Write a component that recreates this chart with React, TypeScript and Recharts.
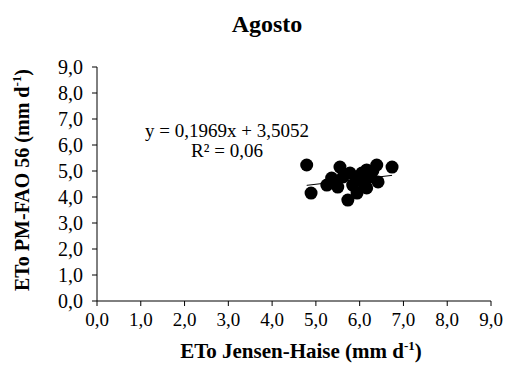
import { ScatterChart, Scatter, XAxis, YAxis, ReferenceLine } from "recharts";

const jensenHaise = [4.79, 4.89, 5.55, 5.36, 5.25, 5.5, 5.73, 5.78, 5.94, 6.16, 6.39, 6.74, 6.42, 6.16, 5.96, 5.62, 5.84, 6.23, 6.05, 6.3, 5.45, 6.1];
const pmFao56 = [5.23, 4.15, 5.15, 4.73, 4.46, 4.38, 3.88, 4.92, 4.15, 5.04, 5.23, 5.15, 4.58, 4.35, 4.65, 4.77, 4.46, 4.77, 4.92, 5.0, 4.6, 4.5];
const ticks = [0, 1, 2, 3, 4, 5, 6, 7, 8, 9];
const slope = 0.1969;
const intercept = 3.5052;

const points = jensenHaise.map((x, i) => ({ x, y: pmFao56[i] }));
const xMin = Math.min(...jensenHaise);
const xMax = Math.max(...jensenHaise);

const fmt = (v: number) => v.toFixed(1).replace(".", ",");
const serif = "Liberation Serif";

export default function App() {
  return (
    <div style={{ position: "absolute", left: 0, top: 0, width: 508, height: 370, background: "#fff" }}>
      <ScatterChart width={508} height={370} margin={{ top: 67, right: 17, left: 47, bottom: 39 }}>
        <XAxis
          type="number"
          dataKey="x"
          domain={[0, 9]}
          ticks={ticks}
          interval={0}
          tickFormatter={fmt}
          height={30}
          stroke="#000"
          tickSize={5}
          tickMargin={7}
          tick={{ fill: "#000", fontSize: 19, fontFamily: serif }}
        />
        <YAxis
          type="number"
          dataKey="y"
          domain={[0, 9]}
          ticks={ticks}
          interval={0}
          tickFormatter={fmt}
          width={50}
          stroke="#000"
          tickSize={5}
          tickMargin={9}
          tick={{ fill: "#000", fontSize: 20, fontFamily: serif }}
        />
        <ReferenceLine
          segment={[
            { x: xMin, y: slope * xMin + intercept },
            { x: xMax, y: slope * xMax + intercept },
          ]}
          stroke="#000"
          strokeWidth={1}
        />
        <Scatter data={points} fill="#000" isAnimationActive={false} shape={(p: any) => <circle cx={p.cx} cy={p.cy} r={6.5} fill="#000" />} />
      </ScatterChart>

      {/* titles and regression text */}
      <svg width={508} height={370} style={{ position: "absolute", left: 0, top: 0, pointerEvents: "none" }} fontFamily={serif} fill="#000">
        <text x={267} y={32} textAnchor="middle" fontSize={24} fontWeight="bold">Agosto</text>
        <text x={227} y={137} textAnchor="middle" fontSize={19}>y = 0,1969x + 3,5052</text>
        <text x={227} y={157} textAnchor="middle" fontSize={19}>R² = 0,06</text>
        <text x={301} y={358} textAnchor="middle" fontSize={21} fontWeight="bold">
          ETo Jensen-Haise (mm d<tspan fontSize={13} dy={-8}>-1</tspan><tspan dy={8}>)</tspan>
        </text>
        <text transform="translate(29,180) rotate(-90)" textAnchor="middle" fontSize={20} fontWeight="bold">
          ETo PM-FAO 56 (mm d<tspan fontSize={13} dy={-8}>-1</tspan><tspan dy={8}>)</tspan>
        </text>
      </svg>
    </div>
  );
}
